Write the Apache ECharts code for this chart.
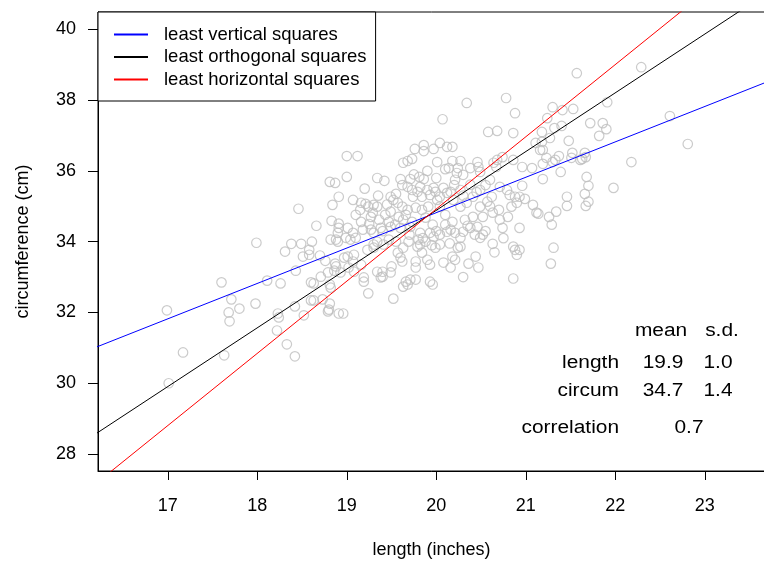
<!DOCTYPE html>
<html>
<head>
<meta charset="utf-8">
<script src="https://cdn.jsdelivr.net/npm/echarts@6/dist/echarts.min.js"></script>
<style>html,body{margin:0;padding:0;background:#fff}#c{width:764px;height:563px}</style>
</head>
<body>
<div id="c"></div>
<script>
// length (inches)
const lengths = [
16.99,17.17,17.01,17.60,17.71,17.80,17.68,17.69,17.63,17.98,17.99,18.11,18.26,18.23,18.24,18.22,18.33,18.42,18.46,18.31,
18.38,18.49,18.43,18.42,18.52,18.51,18.58,18.58,18.61,18.66,18.70,18.76,18.60,18.63,18.71,18.79,18.87,18.88,18.86,18.81,
18.82,18.73,18.60,18.63,18.81,18.79,18.91,18.82,18.88,18.90,18.83,18.84,18.91,18.90,18.91,18.81,18.87,18.91,18.80,
20.34,20.78,20.88,20.07,20.58,20.68,20.86,19.00,19.12,19.76,19.86,19.86,19.97,20.04,20.12,20.18,19.63,19.68,19.73,20.01,
20.18,20.27,20.14,20.24,20.30,20.23,20.46,20.47,20.49,20.64,20.67,19.00,19.34,19.42,19.60,19.71,19.81,19.86,19.97,20.08,
19.49,19.52,19.57,19.07,19.16,19.21,19.24,19.30,19.34,19.29,19.27,19.68,19.73,19.79,19.82,19.90,19.99,19.74,19.84,19.93,
20.04,20.12,20.16,19.62,19.68,19.77,19.84,19.91,20.01,20.04,19.49,19.58,19.63,20.19,20.27,20.34,20.41,20.49,20.57,20.62,
20.68,20.74,20.86,20.71,20.79,20.82,20.88,20.90,20.84,20.41,20.52,20.63,20.71,20.80,
21.57,22.29,21.91,22.61,22.81,21.30,21.41,21.53,21.24,21.32,21.40,21.72,21.86,21.90,21.82,21.18,21.27,21.11,21.16,21.19,
21.18,21.48,21.23,21.30,21.37,21.33,21.51,21.52,21.61,21.66,21.67,21.63,22.18,20.96,21.07,21.19,21.39,21.19,21.68,21.70,
21.98,21.66,21.70,21.67,21.46,21.46,20.96,20.93,20.99,21.08,21.12,21.14,21.26,21.34,21.29,21.31,21.28,20.93,20.93,
19.01,19.07,19.10,19.04,18.99,19.18,19.27,19.30,19.38,19.49,19.60,19.71,19.82,19.80,19.82,19.88,19.93,19.97,20.04,20.12,
20.16,20.21,20.30,20.27,20.27,20.24,20.38,20.46,20.43,20.49,20.52,20.74,20.63,20.86,20.90,20.88,18.97,19.01,19.08,19.07,
19.16,19.02,19.08,18.93,19.23,19.30,19.30,19.34,19.41,19.47,19.57,19.60,19.62,19.63,19.69,19.79,19.84,19.90,19.93,19.77,
19.77,19.77,19.71,19.66,19.63,19.49,19.40,19.38,19.34,19.40,19.19,19.19,19.24,19.52,18.96,19.93,19.96,20.08,20.16,20.18,
20.21,20.36,20.44,20.47,20.86,19.99,20.04,19.68,
19.43,19.54,19.66,19.73,19.88,19.96,20.10,20.18,20.32,20.10,19.47,19.36,19.16,19.10,20.38,20.49,20.27,20.60,20.21,20.38,
19.45,19.55,19.62,19.75,19.90,20.00,20.10,20.20,20.30,20.45,20.55,20.60,20.70,20.00,19.85,19.70,19.55,19.40,19.25,19.15,
19.35,19.20,20.35,20.55,20.75,20.65,19.95,20.15,19.50,20.30
];
// circumference (cm), same order
const circums = [
32.06,30.87,30.00,32.85,32.37,32.11,32.00,31.75,30.79,32.25,33.97,32.90,32.82,31.97,31.86,31.49,31.10,30.76,34.93,33.72,
33.94,33.94,33.18,32.17,31.92,33.58,33.77,33.63,34.00,34.45,33.61,33.46,32.85,32.82,33.01,33.13,33.38,33.30,33.18,32.79,
32.70,32.37,32.34,32.34,32.25,32.03,31.97,34.06,34.06,34.00,34.59,35.04,34.39,34.25,34.51,35.69,35.66,35.27,32.08,
37.92,38.06,37.63,37.46,37.10,37.13,37.07,36.42,36.42,36.62,36.73,36.56,36.62,36.79,36.68,36.68,36.23,36.28,36.34,36.25,
36.28,36.28,36.08,36.08,35.89,35.94,36.25,36.11,35.97,36.23,36.11,35.83,35.80,35.72,35.77,35.77,35.83,35.77,35.52,35.52,
35.27,35.18,35.10,35.18,35.10,35.07,34.99,35.04,34.99,34.82,34.70,35.55,35.46,35.41,35.55,35.46,35.41,35.27,35.27,35.32,
35.27,35.38,35.41,34.99,34.90,34.96,34.90,34.99,35.18,34.99,34.85,34.70,34.62,35.18,34.99,35.10,35.27,34.99,35.13,35.27,
36.31,36.39,36.31,35.55,35.46,35.32,35.27,35.10,34.99,34.70,34.70,34.82,34.62,34.70,
38.76,38.93,37.94,37.55,36.76,37.80,37.72,37.75,37.49,37.21,37.27,37.35,37.35,37.18,36.99,37.10,36.93,36.79,36.59,36.59,
36.82,36.85,36.37,36.25,36.42,36.31,36.37,36.51,36.31,36.51,36.39,36.34,36.25,36.11,36.08,36.20,35.97,35.77,35.83,35.58,
35.52,35.35,35.13,35.01,35.27,35.01,35.58,35.27,35.21,35.04,34.82,34.79,34.70,34.85,34.48,33.83,33.38,34.39,33.77,
34.39,34.25,34.11,34.06,34.11,34.34,34.34,34.25,34.39,34.42,34.39,34.42,34.25,34.06,33.92,34.00,34.25,34.14,34.20,34.28,
34.34,34.25,34.28,34.11,33.86,33.83,34.39,34.42,34.20,34.11,34.20,34.39,33.94,33.86,33.63,33.77,33.55,33.58,33.63,33.44,
33.35,33.27,33.15,33.13,33.77,33.83,33.92,34.00,33.92,34.06,33.69,33.55,33.44,33.83,34.00,33.86,33.69,33.49,33.35,33.44,
33.27,32.93,32.93,32.87,32.73,33.13,33.15,32.99,33.15,33.01,32.99,32.87,32.54,32.39,31.97,32.87,32.79,33.41,33.27,33.58,
33.49,33.38,33.58,33.27,32.96,33.83,33.92,32.79,
34.76,34.48,34.76,34.56,34.68,34.48,34.76,34.56,34.62,34.48,34.56,34.62,34.56,34.76,35.61,35.46,35.46,35.75,35.75,36.08,
35.05,35.35,35.60,35.90,36.00,35.80,36.05,35.60,35.30,35.40,35.60,35.00,34.90,34.30,34.10,34.20,34.00,34.30,34.50,34.90,
35.30,35.50,34.45,34.30,34.10,33.70,33.90,33.95,33.30,33.00
];
const xTicks = [17, 18, 19, 20, 21, 22, 23];
const yTicks = [28, 30, 32, 34, 36, 38, 40];
const lineNames = ['least vertical squares', 'least orthogonal squares', 'least horizontal squares'];
const lineColors = ['#0000ff', '#000000', '#ff0000'];
const lineSlopes = [1.0, 1.66, 2.04];
const centre = [19.9, 34.72];
const statRows = ['length', 'circum'];
const statMeans = ['19.9', '34.7'];
const statSds = ['1.0', '1.4'];
const correlation = '0.7';

const FONT = '"Liberation Sans", Arial, Helvetica, sans-serif';
const points = lengths.map((x, i) => [x, circums[i]]);
const lineSeries = lineNames.map((name, k) => ({
  name, type: 'line', showSymbol: false, symbol: 'none', clip: true, silent: true,
  lineStyle: { color: lineColors[k], width: 1 }, itemStyle: { color: lineColors[k] },
  data: [15, 25].map(x => [x, centre[1] + lineSlopes[k] * (x - centre[0])]),
  z: 3
}));

const txt = (text, x, y, align) => ({
  type: 'text', x, y, scaleX: 1.16,
  style: { text, x: 0, y: 0, fill: '#000', font: '18px ' + FONT, align: align || 'center', verticalAlign: 'middle' }
});
const graphics = [txt('mean', 661, 331), txt('s.d.', 722, 331)];
statRows.forEach((r, i) => {
  const y = [363, 391][i];
  graphics.push(txt(r, 619, y, 'right'), txt(statMeans[i], 663, y), txt(statSds[i], 718, y));
});
graphics.push(txt('correlation', 619, 428, 'right'), txt(correlation, 689, 428));

const chart = echarts.init(document.getElementById('c'), null, { renderer: 'canvas' });
chart.setOption({
  animation: false,
  backgroundColor: '#fff',
  textStyle: { fontFamily: FONT },
  grid: { left: 98, top: 12, right: -1, bottom: 92, show: true, borderColor: '#000', borderWidth: 1,
          backgroundColor: 'transparent', containLabel: false, outerBoundsMode: 'none' },
  xAxis: {
    type: 'value', min: 16.22, max: 23.673,
    name: 'length (inches)', nameLocation: 'middle', nameGap: 70,
    nameTextStyle: { fontSize: 18, color: '#000', fontFamily: FONT },
    axisLine: { show: true, onZero: false, lineStyle: { color: '#000', width: 1 } },
    axisTick: { show: true, length: 9, lineStyle: { color: '#000' }, customValues: xTicks },
    axisLabel: { fontSize: 18, color: '#000', margin: 26, fontFamily: FONT, customValues: xTicks },
    splitLine: { show: false }
  },
  yAxis: {
    type: 'value', min: 27.52, max: 40.49,
    name: 'circumference (cm)', nameLocation: 'middle', nameGap: 66,
    nameTextStyle: { fontSize: 18, color: '#000', fontFamily: FONT },
    axisLine: { show: true, onZero: false, lineStyle: { color: '#000', width: 1 } },
    axisTick: { show: true, length: 10, lineStyle: { color: '#000' }, customValues: yTicks },
    axisLabel: { fontSize: 18, color: '#000', margin: 22, fontFamily: FONT, customValues: yTicks },
    splitLine: { show: false }
  },
  legend: {
    orient: 'vertical', left: 98, top: 12, selectedMode: false,
    data: lineNames.map(n => ({ name: n, icon: 'rect' })),
    itemWidth: 34, itemHeight: 2, itemGap: 3.5,
    padding: [13, 9, 12, 16],
    borderColor: '#000', borderWidth: 1, borderRadius: 0, backgroundColor: '#fff',
    textStyle: { fontSize: 18.5, color: '#000', fontFamily: FONT, padding: [0, 0, 0, 11] }
  },
  series: [
    {
      type: 'scatter', data: points, symbol: 'circle', symbolSize: 9.5, silent: true,
      itemStyle: { color: 'rgba(0,0,0,0)', borderColor: '#bebebe', borderWidth: 1.2 },
      z: 2
    },
    ...lineSeries
  ],
  graphic: graphics
});
</script>
</body>
</html>
